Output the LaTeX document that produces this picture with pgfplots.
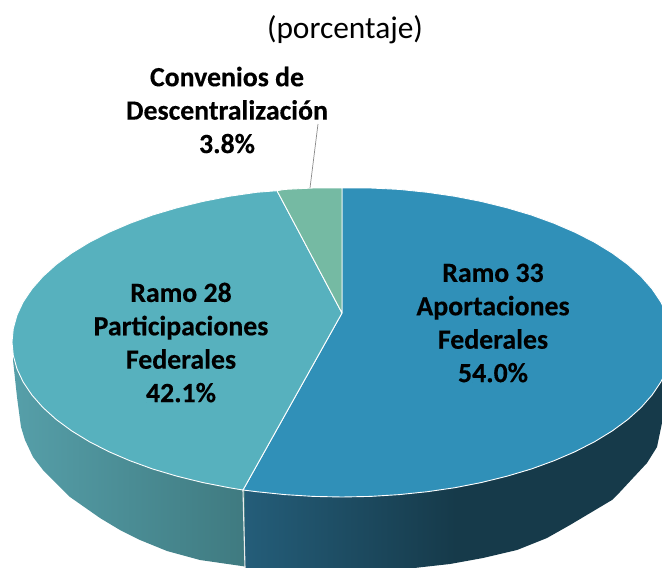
\documentclass[border=0pt]{standalone}
\usepackage{pgfplots}
\usepackage{fontspec}
\setmainfont{Carlito}[BoldFeatures={FakeBold=0.35}]
\pgfplotsset{compat=1.18}
\definecolor{cBlue}{HTML}{3090B8}
\definecolor{cTeal}{HTML}{57B1BE}
\definecolor{cGreen}{HTML}{75BAA3}
\definecolor{wTealL}{HTML}{569FA9}
\definecolor{wTealR}{HTML}{3F7A80}
\definecolor{wBlueL}{HTML}{245D79}
\definecolor{wBlueM}{HTML}{163A4A}
\begin{document}
\begin{tikzpicture}
\begin{axis}[
  hide axis, scale only axis, width=662pt, height=568pt,
  xmin=0, xmax=662, ymin=0, ymax=568, y dir=reverse,
  clip=true]
% side wall, Ramo 28
\addplot[draw=none, left color=wTealL, right color=wTealR] coordinates {
 (245,480)(13,345)(13,360)(17,397)(21,427)(25,440)(33,457)(43,470)(70,497)(100,518)(120,530)(140,540)(167,551)(200,560)(245,566.5)(245,480)};
% side wall, Ramo 33
\addplot[draw=none, left color=wBlueL, right color=wBlueM, middle color=wBlueM] coordinates {
 (245,480)(666,370)(666,400)(662,423)(657,447)(647,463)(633,478)(620,492)(612,500)(570,525)(547,538)(517,550)(483,558)(450,564)(423,567)(380,572)(300,572)(245,572)(245,480)};
% wall separator
\addplot[draw=white!85!gray, line width=1.1pt] coordinates {(243,490)(245,568)};
% top, Ramo 33 (54.0)
\addplot[fill=cBlue, draw=white, line width=0.9pt] coordinates {
 (342,313)(342,188)(370.8,188)(399.3,189.4)(427.4,192.3)(454.9,196.3)(481.5,201.5)(507,207.8)(531.3,215)(554.1,223.3)(575.3,232.4)(594.8,242.4)(612.3,253.1)(627.8,264.5)(641.1,276.5)(652.1,289)(660.8,301.9)(667,315.1)(670.7,328.5)(672,342)(670.7,355.5)(667,368.9)(660.8,382.1)(652.1,395)(641.1,407.5)(627.8,419.5)(612.3,430.9)(594.8,441.6)(575.3,451.6)(554.1,460.7)(531.3,469)(507,476.2)(481.5,482.5)(454.9,487.7)(427.4,491.7)(399.3,494.6)(370.8,496.4)(342,497)(313.2,496.4)(284.7,494.6)(256.6,491.7)(243,490)(342,313)};
% top, Ramo 28 (42.1)
\addplot[fill=cTeal, draw=white, line width=0.9pt] coordinates {
 (342,313)(243,490)(229.1,487.7)(202.5,482.5)(177,476.2)(152.7,469)(129.9,460.7)(108.7,451.6)(89.2,441.6)(71.7,430.9)(56.2,419.5)(42.9,407.5)(31.9,395)(23.2,382.1)(17,368.9)(13.3,355.5)(12,342)(13.3,328.5)(17,315.1)(23.2,301.9)(31.9,289)(42.9,276.5)(56.2,264.5)(71.7,253.1)(89.2,242.4)(108.7,232.4)(129.9,223.3)(152.7,215)(177,207.8)(202.5,201.5)(229.1,196.3)(256.6,192.3)(277,190.7)(342,313)};
% top, Convenios (3.8)
\addplot[fill=cGreen, draw=white, line width=0.9pt] coordinates {
 (342,313)(277,190.7)(284.7,189.4)(313.2,188)(342,188)(342,313)};
% leader
\addplot[draw=gray!90, line width=0.7pt] coordinates {(318,124)(310,188)};
\node[font=\fontsize{31.4}{34}\selectfont] at (axis cs:345,30) {(porcentaje)};
\node[align=center, font=\fontsize{27.8}{33.4}\selectfont\bfseries] at (axis cs:227,110) {Convenios de\\Descentralización\\3.8\%};
\node[align=center, font=\fontsize{27.8}{33.4}\selectfont\bfseries] at (axis cs:181,342.5) {Ramo 28\\Participaciones\\Federales\\42.1\%};
\node[align=center, font=\fontsize{27.8}{33.4}\selectfont\bfseries] at (axis cs:493,323) {Ramo 33\\Aportaciones\\Federales\\54.0\%};
\end{axis}
\pgfresetboundingbox
\useasboundingbox (0,0) rectangle (662pt,568pt);
\end{tikzpicture}
\end{document}
